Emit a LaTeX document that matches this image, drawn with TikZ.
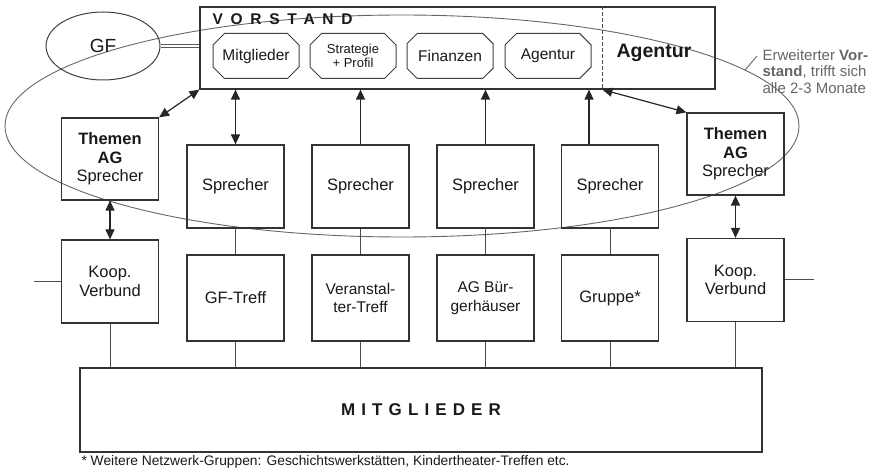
\documentclass[tikz,border=0pt]{standalone}
\usepackage{fontspec}
\setmainfont{Liberation Sans}
\usetikzlibrary{arrows.meta,shapes.geometric,shapes.misc}

\begin{document}
\begin{tikzpicture}[x=1pt,y=-1pt, >={Triangle[length=10pt,width=9pt]},
    kasten/.style={draw=black!80, line width=1.2pt, minimum width=97pt, minimum height=83pt, align=center, inner sep=1pt, text=black!90, font=\fontsize{16.5}{18.5}\selectfont},
    achteck/.style={draw=black!75, line width=1pt, chamfered rectangle, chamfered rectangle xsep=8pt, minimum width=86pt, minimum height=45pt, align=center, inner sep=1pt, text=black!90, font=\fontsize{15.5}{13}\selectfont},
    linie/.style={draw=black!70, line width=1pt},
    pfeil/.style={draw=black!85, line width=1.2pt}]
    \useasboundingbox (0,0) rectangle (878,470);

    % erweiterter Vorstand
    \draw[black!60, line width=0.9pt] (402,126) ellipse (397 and 111);

    \node[draw=black!80, line width=1.2pt, minimum width=515pt, minimum height=82pt] (vorstand) at (457.5,48) {};
    \node[anchor=west, text=black!90, font=\bfseries\fontsize{15.5}{15}\selectfont\addfontfeature{LetterSpace=50}] (titel) at (209,19) {VORSTAND};
    \path (vorstand.north west) ++(403,0) coordinate (trennO);
    \path (vorstand.south west) ++(403,0) coordinate (trennU);
    \draw[linie, dash pattern=on 4pt off 2pt] (trennO) -- (trennU);

    \node[achteck] (mitgl) at (256,56) {Mitglieder};
    \node[achteck, font=\fontsize{13}{14}\selectfont] (strat) at (353,56) {Strategie\\+ Profil};
    \node[achteck] (finanz) at (450,56) {Finanzen};
    \node[achteck] (agtur) at (548,56) {Agentur};
    \node[text=black!90, font=\bfseries\fontsize{19.5}{19}\selectfont] (agentur) at (654,53) {Agentur};

    \node[draw=black!75, line width=1pt, ellipse, minimum width=114pt, minimum height=68pt, text=black!90, font=\fontsize{19}{19}\selectfont] (gf) at (103,46) {GF};
    \draw[black!65, line width=0.8pt, double=white, double distance=2pt] (gf) -- (gf -| vorstand.west);

    \node[anchor=north west, align=left, text=black!60, font=\fontsize{15}{16.5}\selectfont] (anm) at (759,46) {Erweiterter \textbf{Vor-}\\\textbf{stand}, trifft sich\\alle 2-3 Monate};
    \coordinate (anmfuss) at (745,70);
    \draw[black!60, line width=0.9pt] (anmfuss) -- ++(12,-14);

    % Sprecher
    \node[kasten, minimum height=82pt] (themenL) at (110,159) {\textbf{Themen}\\\textbf{AG}\\Sprecher};
    \node[kasten] (spr1) at (235.5,186.5) {Sprecher};
    \node[kasten] (spr2) at (360.5,186.5) {Sprecher};
    \node[kasten] (spr3) at (485.5,186.5) {Sprecher};
    \node[kasten] (spr4) at (610,186.5) {Sprecher};
    \node[kasten, minimum height=82pt] (themenR) at (735.5,154) {\textbf{Themen}\\\textbf{AG}\\Sprecher};

    % Treffen
    \node[kasten] (koopL) at (110,281.5) {Koop.\\Verbund};
    \node[kasten, minimum height=86pt] (gftreff) at (235.5,298) {GF-Treff};
    \node[kasten, minimum height=86pt, font=\fontsize{15.5}{18.5}\selectfont] (veranst) at (360.5,298) {Veranstal-\\ter-Treff};
    \node[kasten, minimum height=86pt, font=\fontsize{15.5}{18.5}\selectfont] (agbuerg) at (485.5,298) {AG Bür-\\gerhäuser};
    \node[kasten, minimum height=86pt] (gruppe) at (610,298) {Gruppe*};
    \node[kasten] (koopR) at (735.5,280) {Koop.\\Verbund};

    \node[kasten, minimum width=682pt, minimum height=84pt, font=\bfseries\fontsize{17}{17}\selectfont\addfontfeature{LetterSpace=36}] (mitglieder) at (421,410) {MITGLIEDER};
    \node[anchor=west, text=black!90, font=\fontsize{13.8}{14}\selectfont] (fussnote) at (78,462) {* Weitere Netzwerk-Gruppen: Geschichtswerkstätten, Kindertheater-Treffen etc.};

    % Verbindungen
    \draw[pfeil, <->] (themenL.north east) -- (vorstand.south west);
    \draw[pfeil, <->] (themenL.south) -- (koopL.north);
    \draw[pfeil, <->] (spr1.north) -- (spr1.north |- vorstand.south);
    \draw[pfeil, ->] (spr2.north) -- (spr2.north |- vorstand.south);
    \draw[pfeil, ->] (spr3.north) -- (spr3.north |- vorstand.south);
    \draw[pfeil, ->] ([xshift=-21pt]spr4.north) -- ([xshift=-21pt]spr4.north |- vorstand.south);
    \draw[pfeil, <->] (trennU) -- (themenR.north west);
    \draw[pfeil, <->] (themenR.south) -- (koopR.north);
    \foreach \o/\u in {spr1/gftreff, spr2/veranst, spr3/agbuerg, spr4/gruppe}
        \draw[linie] (\o.south) -- (\u.north);
    \foreach \u in {koopL, gftreff, veranst, agbuerg, gruppe, koopR}
        \draw[linie] (\u.south) -- (\u.south |- mitglieder.north);
    \draw[linie] (koopL.west) -- ++(-27,0);
    \draw[linie] (koopR.east) -- ++(29,0);
\end{tikzpicture}
\end{document}
